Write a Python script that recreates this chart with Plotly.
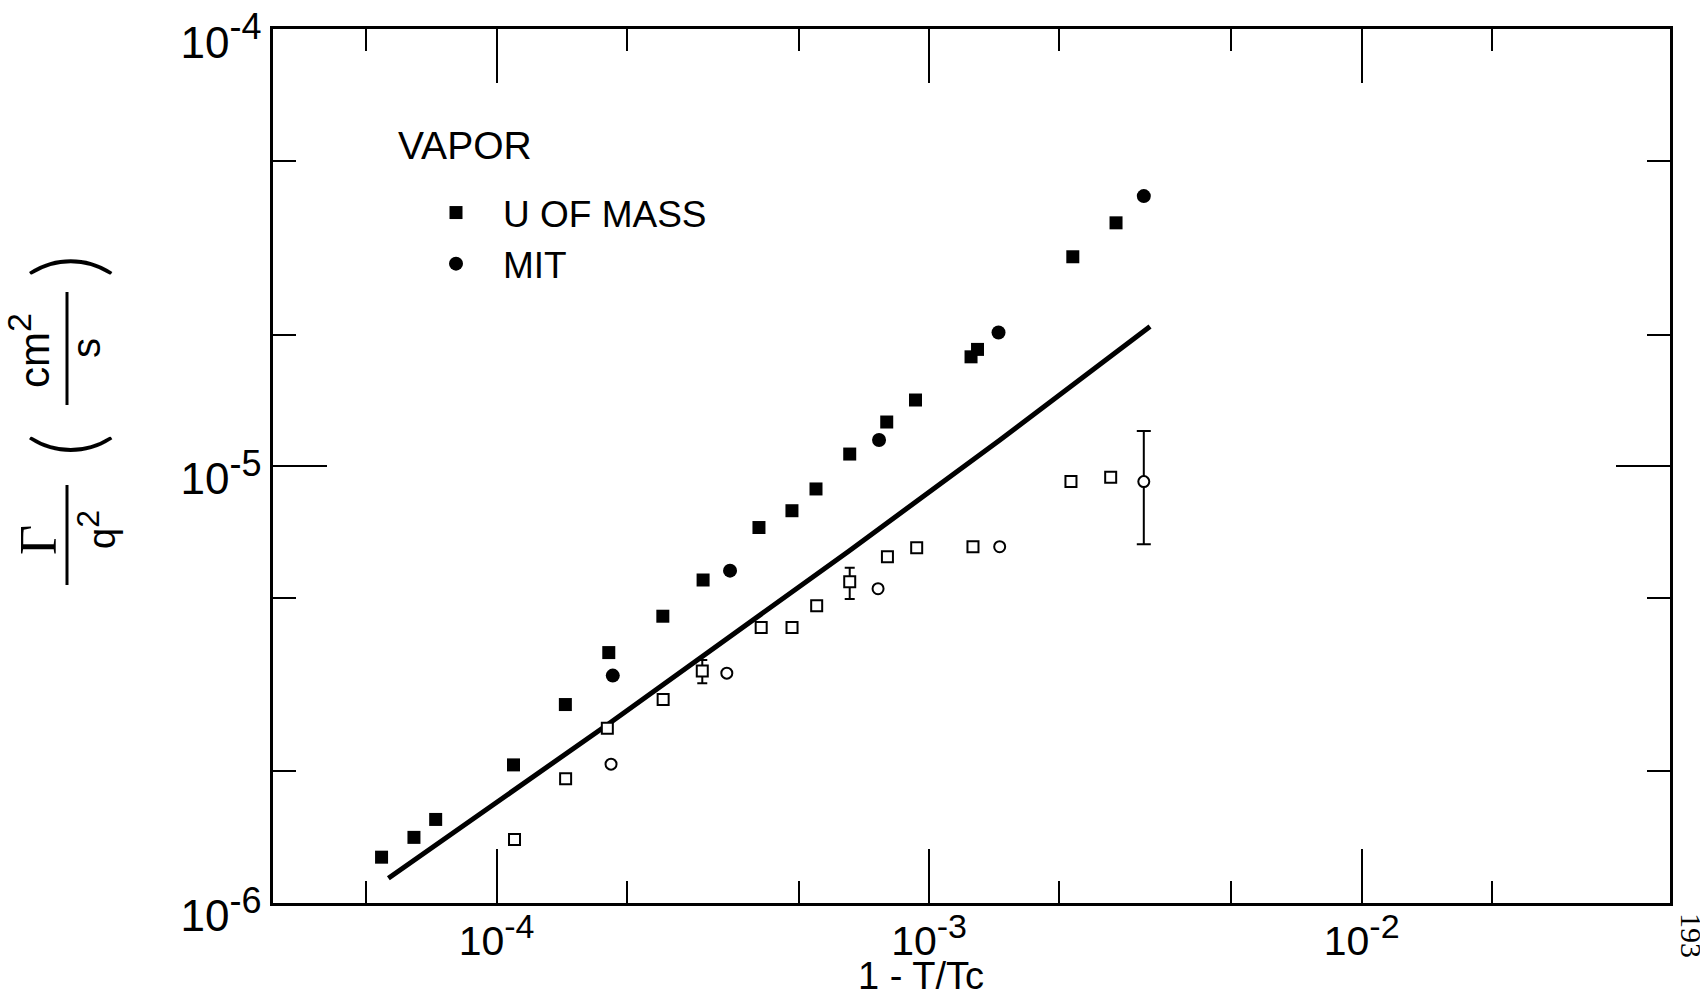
import plotly.graph_objects as go

# ---------------- data ----------------
# Vapor, U of Mass (filled squares)
umass_x = [5.42e-5, 6.44e-5, 7.23e-5, 1.094e-4, 1.442e-4, 1.817e-4, 2.423e-4, 3.002e-4,
           4.042e-4, 4.818e-4, 5.476e-4, 6.553e-4, 7.98e-4, 9.30e-4, 1.250e-3, 1.294e-3,
           2.149e-3, 2.705e-3]
umass_y = [1.272e-6, 1.412e-6, 1.552e-6, 2.069e-6, 2.844e-6, 3.740e-6, 4.53e-6, 5.483e-6,
           7.23e-6, 7.90e-6, 8.86e-6, 1.065e-5, 1.261e-5, 1.416e-5, 1.778e-5, 1.849e-5,
           3.013e-5, 3.603e-5]

# Vapor, MIT (filled circles)
mit_x = [1.856e-4, 3.465e-4, 7.66e-4, 1.447e-3, 3.136e-3]
mit_y = [3.313e-6, 5.76e-6, 1.147e-5, 2.022e-5, 4.148e-5]

# open squares
osq_x = [1.100e-4, 1.444e-4, 1.803e-4, 2.427e-4, 2.989e-4, 4.09e-4, 4.82e-4, 5.496e-4,
         6.553e-4, 8.01e-4, 9.36e-4, 1.263e-3, 2.128e-3, 2.629e-3]
osq_y = [1.397e-6, 1.922e-6, 2.511e-6, 2.920e-6, 3.392e-6, 4.27e-6, 4.27e-6, 4.787e-6,
         5.434e-6, 6.20e-6, 6.50e-6, 6.535e-6, 9.21e-6, 9.42e-6]
osq_lo = [None, None, None, None, 3.183e-6, None, None, None, 4.96e-6, None, None, None, None, None]
osq_hi = [None, None, None, None, 3.597e-6, None, None, None, 5.85e-6, None, None, None, None, None]

# open circles
ocir_x = [1.839e-4, 3.406e-4, 7.62e-4, 1.456e-3, 3.136e-3]
ocir_y = [2.077e-6, 3.355e-6, 5.237e-6, 6.535e-6, 9.21e-6]
ocir_lo = [None, None, None, None, 6.62e-6]
ocir_hi = [None, None, None, None, 1.202e-5]

# theory curve
theory_x = [5.62e-5, 1.800e-4, 6.53e-4, 1.458e-3, 3.242e-3]
theory_y = [1.138e-6, 2.554e-6, 6.39e-6, 1.147e-5, 2.085e-5]

# axes
x_major = [1e-4, 1e-3, 1e-2]
x_major_exp = ["-4", "-3", "-2"]
x_minor = [5e-5, 2e-4, 5e-4, 2e-3, 5e-3, 2e-2]
y_major = [1e-6, 1e-5, 1e-4]
y_major_exp = ["-6", "-5", "-4"]
y_minor = [2e-6, 5e-6, 2e-5, 5e-5]

# ---------------- layout helpers ----------------
FIG_W, FIG_H = 1700, 992
L, R, T, B = 273, 1670, 29, 903
W, H = R - L, B - T


def px(x):
    return (x - L) / W


def py(y):
    return (B - y) / H


SANS = "Liberation Sans, Arial, sans-serif"
NARROW = "Liberation Sans Narrow, Liberation Sans, Arial, sans-serif"
SERIF = "Liberation Serif, Times New Roman, serif"
THIN = "Lato, Inter, DejaVu Sans, sans-serif"


def sup(base, exp, size):
    return f"{base}<sup><span style='font-size:{size}px'>{exp}</span></sup>"


def split(xs, ys, lo, hi):
    plain = [(x, y) for x, y, a in zip(xs, ys, lo) if a is None]
    err = [(x, y, a, b) for x, y, a, b in zip(xs, ys, lo, hi) if a is not None]
    return plain, err


fig = go.Figure()

fig.add_trace(go.Scatter(x=theory_x, y=theory_y, mode="lines",
                         line=dict(color="black", width=5), showlegend=False,
                         name="theory", hoverinfo="skip"))

open_sq_style = dict(symbol="square", size=11, color="white", line=dict(color="black", width=2))
open_ci_style = dict(symbol="circle", size=11, color="white", line=dict(color="black", width=2))

for xs, ys, lo, hi, mstyle, cap, nm in [
    (osq_x, osq_y, osq_lo, osq_hi, open_sq_style, 5, "open squares"),
    (ocir_x, ocir_y, ocir_lo, ocir_hi, open_ci_style, 7, "open circles"),
]:
    plain, err = split(xs, ys, lo, hi)
    if err:
        fig.add_trace(go.Scatter(
            x=[e[0] for e in err], y=[e[1] for e in err], mode="markers",
            marker=mstyle, showlegend=False, name=nm,
            error_y=dict(type="data", symmetric=False,
                         array=[e[3] - e[1] for e in err],
                         arrayminus=[e[1] - e[2] for e in err],
                         color="black", thickness=2, width=cap)))
    fig.add_trace(go.Scatter(
        x=[p[0] for p in plain], y=[p[1] for p in plain], mode="markers",
        marker=mstyle, showlegend=False, name=nm))

fig.add_trace(go.Scatter(x=umass_x, y=umass_y, mode="markers", name="U OF MASS",
                         marker=dict(symbol="square", size=13, color="black")))
fig.add_trace(go.Scatter(x=mit_x, y=mit_y, mode="markers", name="MIT",
                         marker=dict(symbol="circle", size=14, color="black")))

axis_common = dict(
    type="log", showgrid=False, zeroline=False, showline=True,
    linecolor="black", linewidth=2.5, mirror="ticks",
    ticks="inside", ticklen=54, tickwidth=2, tickcolor="black",
    tickmode="array", ticklabeloverflow="allow", automargin=False,
)

fig.update_xaxes(**axis_common, range=[-4.517, -1.287],
                 tickvals=x_major, ticktext=[sup("10", e, 34) for e in x_major_exp],
                 tickfont=dict(family=NARROW, size=41, color="black"),
                 minor=dict(tickmode="array", tickvals=x_minor, ticks="inside", ticklen=22,
                            tickwidth=2, tickcolor="black", showgrid=False))
fig.update_yaxes(**axis_common, range=[-6.0004, -3.9996],
                 tickvals=y_major, ticktext=[sup("10", e, 36) for e in y_major_exp],
                 tickfont=dict(family=SANS, size=44, color="black"),
                 ticklabelshift=13,
                 minor=dict(tickmode="array", tickvals=y_minor, ticks="inside", ticklen=23,
                            tickwidth=2, tickcolor="black", showgrid=False))

ann = []


def add_text(text, x, y, size, angle=0, family=SANS, xanchor="center", weight=None):
    f = dict(family=family, size=size, color="black")
    if weight is not None:
        f["weight"] = weight
    ann.append(dict(text=text, x=px(x), y=py(y), xref="paper", yref="paper",
                    showarrow=False, textangle=angle, xanchor=xanchor, yanchor="middle",
                    font=f))


add_text("Γ", 38, 540, 52, -90, SERIF)
add_text(sup("q", "2", 32), 96, 530, 38, -90)
add_text(sup("cm", "2", 34), 29, 350, 42, -90)
add_text("s", 86, 348, 40, -90)
add_text("(", 64, 445, 92, -90, THIN, weight=300)
add_text(")", 64, 266, 92, -90, THIN, weight=300)
add_text("VAPOR", 396, 146, 39, 0, SANS, xanchor="left")
add_text("1 - T/Tc", 921, 976, 38)
add_text("193", 1692, 935, 30, 90, SERIF)

shapes = [
    dict(type="line", xref="paper", yref="paper", x0=px(67), x1=px(67), y0=py(485), y1=py(585),
         line=dict(color="black", width=3)),
    dict(type="line", xref="paper", yref="paper", x0=px(67), x1=px(67), y0=py(292), y1=py(405),
         line=dict(color="black", width=3)),
]

fig.update_layout(
    width=FIG_W, height=FIG_H,
    margin=dict(l=L, r=FIG_W - R, t=T, b=FIG_H - B, pad=0, autoexpand=False),
    paper_bgcolor="white", plot_bgcolor="white",
    font=dict(family=SANS, color="black"),
    annotations=ann, shapes=shapes,
    legend=dict(font=dict(family=SANS, size=37, color="black"),
                x=px(409), y=py(182), xanchor="left", yanchor="top",
                bgcolor="rgba(0,0,0,0)", borderwidth=0,
                itemwidth=84, tracegroupgap=0),
)

fig.write_html("out.html")
